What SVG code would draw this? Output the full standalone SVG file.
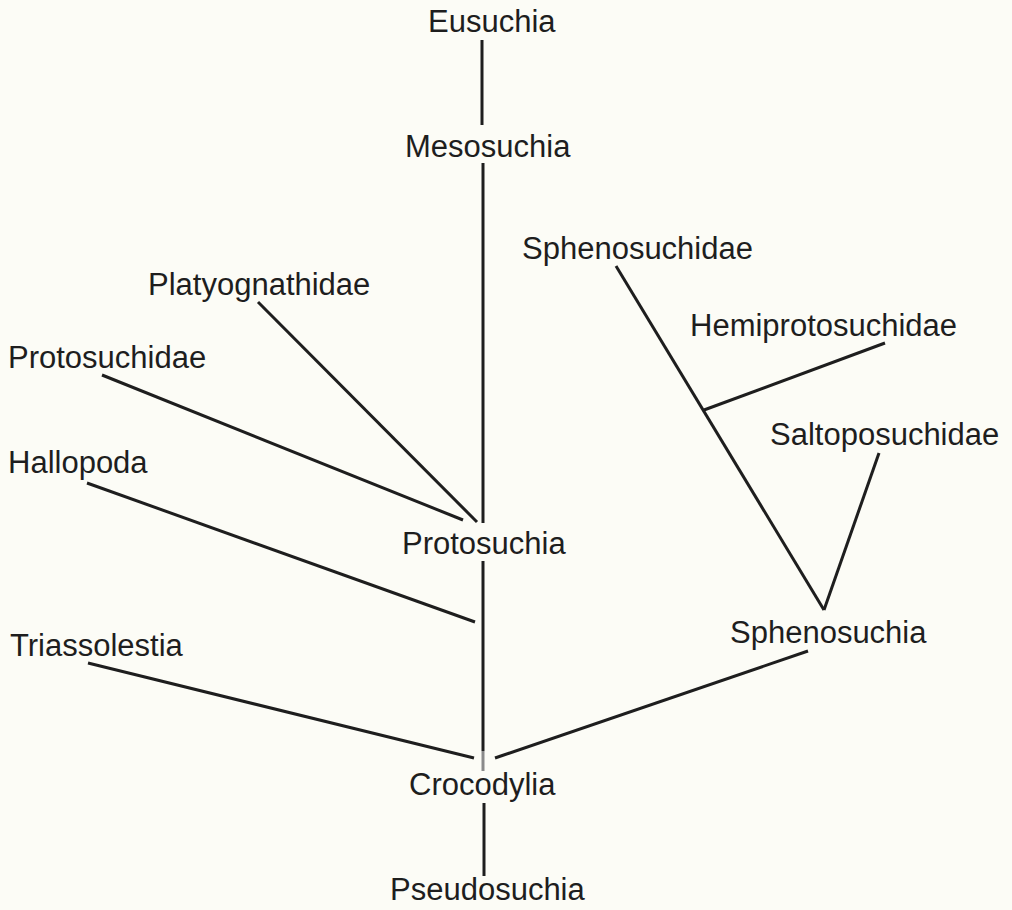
<svg xmlns="http://www.w3.org/2000/svg" width="1012" height="910" viewBox="0 0 1012 910">
<style>
.lbl{font-family:"Liberation Sans","DejaVu Sans",Arial,sans-serif;font-size:31px;fill:#1e1e1e}
.edge{stroke:#1e1e1e;stroke-width:3;stroke-linecap:butt;fill:none}
.faint{stroke:#8a8a8a;stroke-width:3;fill:none}
</style>
<rect width="1012" height="910" fill="#fcfcf6"/>
<g id="connectors">
<line class="edge" x1="482" y1="40" x2="482" y2="125"/>
<line class="edge" x1="483" y1="163" x2="483" y2="523"/>
<line class="edge" x1="483" y1="561" x2="483" y2="751"/>
<line class="faint" x1="483" y1="751" x2="483" y2="771"/>
<line class="edge" x1="484" y1="803" x2="484" y2="876"/>
<line class="edge" x1="258" y1="302" x2="477" y2="522"/>
<line class="edge" x1="102" y1="375" x2="463" y2="520"/>
<line class="edge" x1="87" y1="483" x2="475" y2="622"/>
<line class="edge" x1="88" y1="663" x2="474" y2="758"/>
<line class="edge" x1="808" y1="651" x2="495" y2="758"/>
<line class="edge" x1="616" y1="266" x2="824" y2="610"/>
<line class="edge" x1="704" y1="410" x2="885" y2="343"/>
<line class="edge" x1="879" y1="453" x2="824" y2="610"/>
</g>
<g id="n-eusuchia"><text class="lbl" x="428" y="32">Eusuchia</text></g>
<g id="n-mesosuchia"><text class="lbl" x="405" y="157">Mesosuchia</text></g>
<g id="n-platyognathidae"><text class="lbl" x="148" y="295">Platyognathidae</text></g>
<g id="n-protosuchidae"><text class="lbl" x="8" y="368">Protosuchidae</text></g>
<g id="n-hallopoda"><text class="lbl" x="8" y="473">Hallopoda</text></g>
<g id="n-protosuchia"><text class="lbl" x="402" y="554">Protosuchia</text></g>
<g id="n-triassolestia"><text class="lbl" x="10" y="656">Triassolestia</text></g>
<g id="n-crocodylia"><text class="lbl" x="409" y="795">Crocodylia</text></g>
<g id="n-pseudosuchia"><text class="lbl" x="390" y="900">Pseudosuchia</text></g>
<g id="n-sphenosuchidae"><text class="lbl" x="522" y="259">Sphenosuchidae</text></g>
<g id="n-hemiprotosuchidae"><text class="lbl" x="690" y="336">Hemiprotosuchidae</text></g>
<g id="n-saltoposuchidae"><text class="lbl" x="770" y="445">Saltoposuchidae</text></g>
<g id="n-sphenosuchia"><text class="lbl" x="730" y="643">Sphenosuchia</text></g>
</svg>
